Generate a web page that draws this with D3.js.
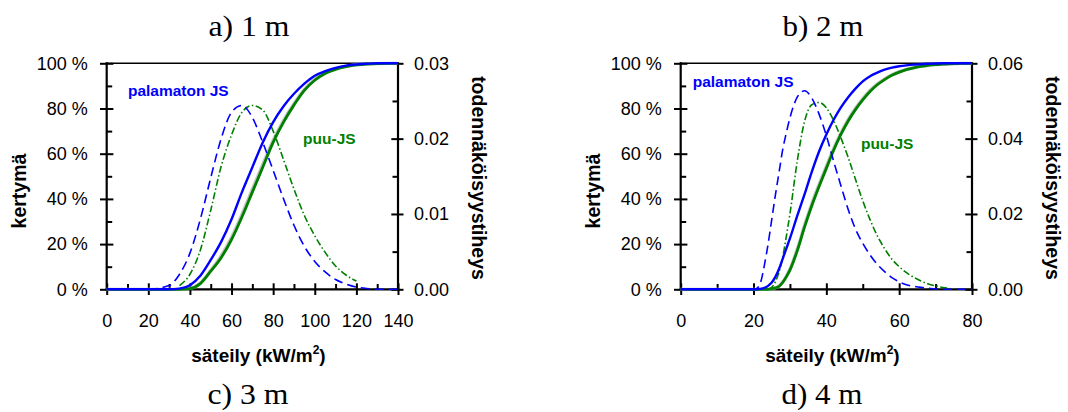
<!DOCTYPE html>
<html>
<head>
<meta charset="utf-8">
<script src="https://cdn.jsdelivr.net/npm/d3@7"></script>
<style>
  html, body { margin: 0; padding: 0; background: #fff; }
  svg { display: block; }
</style>
</head>
<body>
<svg id="chart" width="1068" height="412"></svg>
<script>
// ---- Text and ticks ----
const panelTitles = ["a) 1 m", "b) 2 m", "c) 3 m", "d) 4 m"];
const seriesNames = ["palamaton JS", "puu-JS"];
const xTitle = "säteily (kW/m";
const yLeftTitle = "kertymä";
const yRightTitle = "todennäköisyystiheys";
const pctTicks = [0, 20, 40, 60, 80, 100];
const pctMinor = [10, 30, 50, 70, 90];
const xTicks1m = [0, 20, 40, 60, 80, 100, 120, 140];
const xMinor1m = [10, 30, 50, 70, 90, 110, 130];
const xTicks2m = [0, 20, 40, 60, 80];
const xMinor2m = [10, 30, 50, 70];
const densTicks1m = [0, 0.01, 0.02, 0.03];
const densMinor1m = [0.005, 0.015, 0.025];
const densTicks2m = [0, 0.02, 0.04, 0.06];
const densMinor2m = [0.01, 0.03, 0.05];

// ---- 1 m distance: radiation (kW/m2) ----
const x1m = [0, 20, 30, 35, 40, 45, 50, 55, 60, 65, 70, 75, 80, 85, 90, 95, 100, 105, 110, 115, 120, 125, 130, 135, 140];
// cumulative share (%)
const cdfBlue1m  = [0, 0, 0, 0.3, 1.8, 6, 13, 21, 31, 43, 54, 65, 74, 81, 86.5, 91, 94.5, 96.5, 98, 99, 99.5, 99.8, 100, 100, 100];
const cdfGreen1m = [0, 0, 0, 0, 0.3, 2.5, 8, 14, 22, 32, 43, 54, 65, 74, 81.5, 88, 92.5, 95.5, 97.3, 98.5, 99.3, 99.7, 99.9, 100, 100];
const cdfFit1m   = [0, 0, 0, 0, 0.4, 2.8, 8.4, 14.8, 23, 33.3, 44.3, 55.3, 66, 74.8, 82.2, 88.5, 92.9, 95.8, 97.5, 98.6, 99.4, 99.7, 99.9, 100, 100];
// probability density
const pdfBlue1m  = [0, 0, 0.0005, 0.002, 0.0048, 0.0093, 0.0148, 0.0200, 0.0235, 0.0244, 0.0228, 0.0195, 0.0158, 0.0120, 0.0085, 0.0057, 0.0037, 0.0023, 0.0013, 0.0007, 0.0003, 0.0001, 0, 0, 0];
const pdfGreen1m = [null, null, null, 0.0005, 0.002, 0.0052, 0.0105, 0.0163, 0.0205, 0.0235, 0.0244, 0.0238, 0.0210, 0.0172, 0.0133, 0.0098, 0.0071, 0.0049, 0.0031, 0.0019, 0.0011, null, null, null, null];

// ---- 2 m distance ----
const x2m = [0, 10, 20, 21, 22, 23, 24, 25, 26, 27, 28, 29, 30, 32, 34, 36, 38, 40, 42, 44, 46, 48, 50, 52, 54, 56, 58, 60, 62, 64, 66, 68, 70, 72, 74, 76, 78, 80];
const cdfBlue2m  = [0, 0, 0, 0, 0.2, 0.6, 1.5, 3, 5.5, 9, 13.5, 18, 22.5, 32.5, 42, 52, 61, 68.5, 75, 80.5, 85, 88.8, 92, 94.3, 95.9, 97.2, 98.1, 98.7, 99.1, 99.4, 99.6, 99.8, 99.9, 100, 100, 100, 100, 100];
const cdfGreen2m = [0, 0, 0, 0, 0, 0, 0, 0.2, 0.6, 1.3, 3, 5.5, 8.5, 17, 27.5, 37, 45.5, 53.5, 61.5, 68.5, 74.5, 79.5, 83.8, 87.5, 90.5, 92.8, 94.7, 96.1, 97.2, 98, 98.6, 99.1, 99.4, 99.6, 99.8, 99.9, 100, 100];
const cdfFit2m   = [0, 0, 0, 0, 0, 0, 0, 0.2, 0.7, 1.5, 3.2, 5.8, 9, 17.8, 28.3, 38, 46.5, 54.5, 62.4, 69.2, 75.2, 80.1, 84.4, 88, 90.9, 93.1, 95, 96.3, 97.4, 98.1, 98.7, 99.1, 99.4, 99.6, 99.8, 99.9, 100, 100];
const pdfBlue2m  = [0, 0, 0, 0.0003, 0.002, 0.0065, 0.012, 0.0185, 0.025, 0.031, 0.037, 0.0415, 0.0455, 0.051, 0.0527, 0.0508, 0.0465, 0.0408, 0.034, 0.0275, 0.0212, 0.016, 0.0122, 0.0091, 0.0066, 0.0047, 0.0031, 0.002, 0.0012, 0.0008, 0.0005, 0.0003, 0.0001, 0, 0, 0, 0, 0];
const pdfGreen2m = [null, null, null, null, null, null, 0, 0.0005, 0.002, 0.0045, 0.0085, 0.014, 0.02, 0.034, 0.0445, 0.049, 0.0496, 0.0482, 0.0448, 0.0402, 0.035, 0.0292, 0.0235, 0.0185, 0.0142, 0.0108, 0.008, 0.006, 0.0044, 0.0032, 0.0022, 0.0014, 0.0009, 0.0005, 0.0002, null, null, null];

// Label anchor positions in data units [x, %]
const labelPos1m = [[10.2, 85.7], [94.4, 64.2]];
const labelPos2m = [[3.3, 89.6], [49.5, 62]];

// ---- Drawing ----
const BLUE = "#0000ff", GREEN = "#008000", GRAY = "#c4c4c4";
const SANS = "'Liberation Sans', Arial, sans-serif";
const SERIF = "'Liberation Serif', 'Times New Roman', serif";
const svg = d3.select("#chart");

const panels = [
  { left: 106.7, right: 398, xMax: 140, dMax: 0.03, xTicks: xTicks1m, xMinor: xMinor1m,
    dTicks: densTicks1m, dMinor: densMinor1m, xs: x1m,
    cdfB: cdfBlue1m, cdfG: cdfGreen1m, cdfF: cdfFit1m, pdfB: pdfBlue1m, pdfG: pdfGreen1m,
    labels: labelPos1m, top: panelTitles[0], bottom: panelTitles[2] },
  { left: 680.7, right: 972, xMax: 80, dMax: 0.06, xTicks: xTicks2m, xMinor: xMinor2m,
    dTicks: densTicks2m, dMinor: densMinor2m, xs: x2m,
    cdfB: cdfBlue2m, cdfG: cdfGreen2m, cdfF: cdfFit2m, pdfB: pdfBlue2m, pdfG: pdfGreen2m,
    labels: labelPos2m, top: panelTitles[1], bottom: panelTitles[3] }
];
const TOP = 63.3, BOT = 289.3;

panels.forEach(p => {
  const g = svg.append("g");
  const x = d3.scaleLinear().domain([0, p.xMax]).range([p.left, p.right]);
  const y = d3.scaleLinear().domain([0, 100]).range([BOT, TOP]);
  const yR = d3.scaleLinear().domain([0, p.dMax]).range([BOT, TOP]);

  // left axis: major ticks crossing the spine, minor ticks inside
  const gl = g.append("g").attr("transform", `translate(${p.left},0)`)
    .call(d3.axisLeft(y).tickValues(pctTicks).tickSize(6.7).tickSizeOuter(0).tickPadding(12.3)
      .tickFormat(d => d + " %"));
  gl.selectAll(".tick line").attr("x1", 6.7);
  g.append("g").attr("transform", `translate(${p.left},0)`)
    .call(d3.axisLeft(y).tickValues(pctMinor).tickSize(-5.5).tickSizeOuter(0).tickFormat(""));

  // right axis
  const gr = g.append("g").attr("transform", `translate(${p.right},0)`)
    .call(d3.axisRight(yR).tickValues(p.dTicks).tickSize(5.5).tickSizeOuter(0).tickPadding(10.5)
      .tickFormat(d3.format(".2f")));
  gr.selectAll(".tick line").attr("x1", -6.7);
  g.append("g").attr("transform", `translate(${p.right},0)`)
    .call(d3.axisRight(yR).tickValues(p.dMinor).tickSize(-5.5).tickSizeOuter(0).tickFormat(""));

  // bottom axis
  const gb = g.append("g").attr("transform", `translate(0,${BOT})`)
    .call(d3.axisBottom(x).tickValues(p.xTicks).tickSize(5.7).tickSizeOuter(0).tickPadding(19.2));
  gb.selectAll(".tick line").attr("y1", -6);
  g.append("g").attr("transform", `translate(0,${BOT})`)
    .call(d3.axisBottom(x).tickValues(p.xMinor).tickSize(-5.3).tickSizeOuter(0).tickFormat(""));

  g.selectAll(".domain").remove();
  g.selectAll(".tick line").attr("stroke", "#000").attr("stroke-width", 2);
  g.selectAll(".tick text").attr("font-family", SANS).attr("font-size", 18).attr("fill", "#000");

  // frame: left, right, bottom spines and top edge
  const frame = [[p.left, TOP, p.left, BOT], [p.right, TOP, p.right, BOT],
                 [p.left, BOT, p.right, BOT], [p.left, TOP, p.right, TOP]];
  g.selectAll("line.frame").data(frame).join("line").attr("class", "frame")
    .attr("x1", d => d[0]).attr("y1", d => d[1]).attr("x2", d => d[2]).attr("y2", d => d[3])
    .attr("stroke", "#000").attr("stroke-width", d => d[1] === d[3] && d[1] === TOP ? 1.6 : 2.2)
    .attr("stroke-linecap", "square");

  // curves
  const mk = (ys, sy) => d3.line()
    .defined((d, i) => ys[i] != null)
    .x(d => x(d))
    .y((d, i) => sy(ys[i]))
    .curve(d3.curveMonotoneX)(p.xs);

  g.append("path").attr("d", mk(p.cdfF, y)).attr("fill", "none")
    .attr("stroke", GRAY).attr("stroke-width", 3.2);
  g.append("path").attr("d", mk(p.cdfG, y)).attr("fill", "none")
    .attr("stroke", GREEN).attr("stroke-width", 2.8);
  g.append("path").attr("d", mk(p.pdfG, yR)).attr("fill", "none")
    .attr("stroke", GREEN).attr("stroke-width", 1.6).attr("stroke-dasharray", "7,2.5,1.5,2.5");
  g.append("path").attr("d", mk(p.cdfB, y)).attr("fill", "none")
    .attr("stroke", BLUE).attr("stroke-width", 2.4);
  g.append("path").attr("d", mk(p.pdfB, yR)).attr("fill", "none")
    .attr("stroke", BLUE).attr("stroke-width", 1.6).attr("stroke-dasharray", "9,5");

  // series labels
  [BLUE, GREEN].forEach((c, i) => {
    g.append("text").attr("x", x(p.labels[i][0])).attr("y", y(p.labels[i][1]))
      .attr("font-family", SANS).attr("font-weight", "bold").attr("font-size", 15.5)
      .attr("fill", c).text(seriesNames[i]);
  });

  // axis titles
  const xt = g.append("text").attr("x", p.left + 84.5).attr("y", 361.7)
    .attr("font-family", SANS).attr("font-weight", "bold").attr("font-size", 19).attr("fill", "#000");
  xt.append("tspan").text(xTitle);
  xt.append("tspan").attr("font-size", 12).attr("dy", -8).text("2");
  xt.append("tspan").attr("dy", 8).text(")");

  g.append("text").attr("transform", `translate(${p.left - 81},191) rotate(-90)`)
    .attr("text-anchor", "middle").attr("font-family", SANS).attr("font-weight", "bold")
    .attr("font-size", 19.5).attr("fill", "#000").text(yLeftTitle);
  g.append("text").attr("transform", `translate(${p.right + 73.5},178) rotate(90)`)
    .attr("text-anchor", "middle").attr("font-family", SANS).attr("font-weight", "bold")
    .attr("font-size", 19.5).attr("fill", "#000").text(yRightTitle);

  // sub-figure captions above and below
  g.append("text").attr("x", p.left + 142.3).attr("y", 36).attr("text-anchor", "middle")
    .attr("font-family", SERIF).attr("font-size", 29).attr("fill", "#000")
    .attr("textLength", 81).attr("lengthAdjust", "spacingAndGlyphs").text(p.top);
  g.append("text").attr("x", p.left + 141.3).attr("y", 403.5).attr("text-anchor", "middle")
    .attr("font-family", SERIF).attr("font-size", 29).attr("fill", "#000")
    .attr("textLength", 81).attr("lengthAdjust", "spacingAndGlyphs").text(p.bottom);
});
</script>
</body>
</html>
